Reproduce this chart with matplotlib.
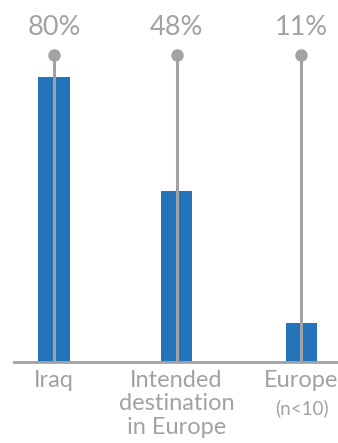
import matplotlib.pyplot as plt

categories = ["Iraq", "Intended\ndestination\nin Europe", "Europe"]
notes = ["", "", "(n<10)"]
values = [80, 48, 11]

blue = "#2474bb"
grey = "#a2a2a5"

plt.rcParams['font.family'] = ['Lato', 'DejaVu Sans']

fig = plt.figure(figsize=(3.38, 4.43), dpi=100)
ax = fig.add_axes([14 / 338, 81 / 443, 324 / 338, 362 / 443])

xs = [0, 1, 2.02]
ax.bar(xs, values, width=0.26, color=blue, zorder=1)

# stems with a dot at the top, value printed above
for x, v in zip(xs, values):
    ax.plot([x, x], [0, 86.2], color=grey, lw=2.2, zorder=2, solid_capstyle='butt')
    ax.plot(x, 86.2, 'o', color=grey, ms=8, zorder=3)
    ax.text(x, 93.8, f"{v}%", ha='center', va='center', fontsize=19.5, color=grey)

ax.set_xlim(-0.327, 2.318)
ax.set_ylim(0, 101.6)
for s in ['top', 'left', 'right']:
    ax.spines[s].set_visible(False)
ax.spines['bottom'].set_color(grey)
ax.spines['bottom'].set_linewidth(2)
ax.set_yticks([])
ax.set_xticks([])

for x, c, n in zip(xs, categories, notes):
    ax.annotate(c, (x, 0), xycoords=('data', 'axes fraction'), xytext=(0, -8),
                textcoords='offset pixels', ha='center', va='top', fontsize=17,
                color=grey, linespacing=1.14)
    if n:
        ax.annotate(n, (x, 0), xycoords=('data', 'axes fraction'), xytext=(0, -46),
                    textcoords='offset pixels', ha='center', va='center', fontsize=13.5,
                    color=grey)

fig.savefig("out.png", dpi=100)
